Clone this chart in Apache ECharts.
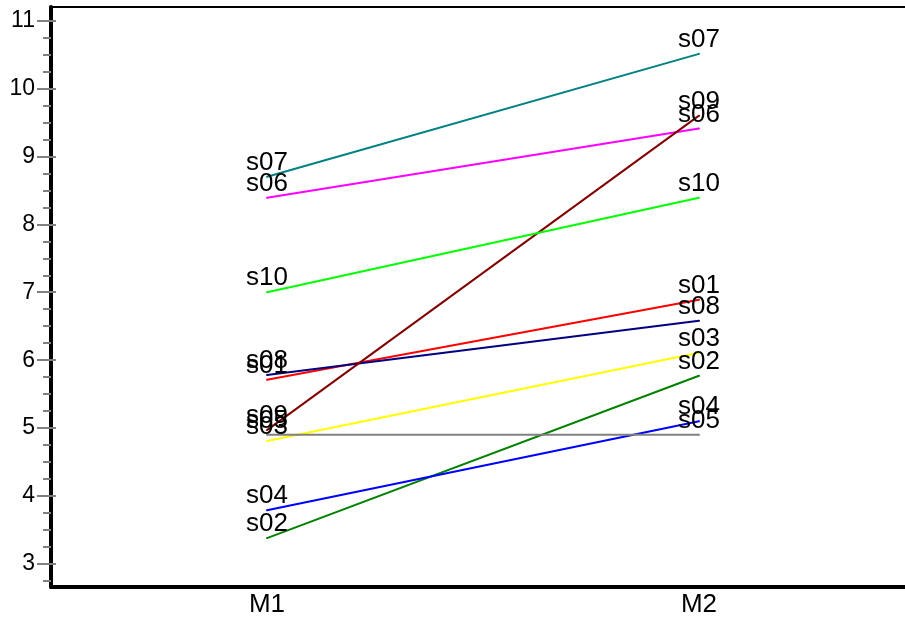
<!DOCTYPE html>
<html>
<head>
<meta charset="utf-8">
<script src="https://cdn.jsdelivr.net/npm/echarts@6/dist/echarts.min.js"></script>
<style>html,body{margin:0;padding:0;background:#fff;}#c{width:905px;height:618px;}</style>
</head>
<body>
<div id="c"></div>
<script>
const categories = ['M1', 'M2'];
const seriesNames = ['s01','s02','s03','s04','s05','s06','s07','s08','s09','s10'];
const s01 = [5.71, 6.89];
const s02 = [3.38, 5.77];
const s03 = [4.81, 6.11];
const s04 = [3.79, 5.10];
const s05 = [4.90, 4.90];
const s06 = [8.39, 9.41];
const s07 = [8.70, 10.51];
const s08 = [5.78, 6.58];
const s09 = [4.97, 9.60];
const s10 = [7.00, 8.39];
const majorTicks = [3, 4, 5, 6, 7, 8, 9, 10, 11];
const minorTicks = [2.75, 3.25, 3.5, 3.75, 4.25, 4.5, 4.75, 5.25, 5.5, 5.75, 6.25, 6.5, 6.75, 7.25, 7.5, 7.75, 8.25, 8.5, 8.75, 9.25, 9.5, 9.75, 10.25, 10.5, 10.75];
const colors = ['#ff0000','#008000','#ffff00','#0000ff','#808080','#ff00ff','#008080','#000080','#800000','#00ff00'];
const values = [s01,s02,s03,s04,s05,s06,s07,s08,s09,s10];

const YMIN = 2.66, YMAX = 11.2;
const chart = echarts.init(document.getElementById('c'));
const baseY = {type:'value', min:YMIN, max:YMAX, position:'left', splitLine:{show:false}};
chart.setOption({
  animation:false,
  grid:{left:51, width:864, top:7, bottom:31, outerBoundsMode:'none', containLabel:false},
  xAxis:[
    {type:'category', data:categories, boundaryGap:true,
     axisLine:{lineStyle:{color:'#000', width:4}}, axisTick:{show:false},
     axisLabel:{color:'#000', fontSize:26, fontFamily:'Liberation Sans', margin:5}},
    {type:'category', data:categories, position:'top',
     axisLine:{lineStyle:{color:'#000', width:2}}, axisTick:{show:false}, axisLabel:{show:false}}
  ],
  yAxis:[
    Object.assign({}, baseY, {
      axisLine:{show:true, lineStyle:{color:'#000', width:4}},
      axisTick:{show:true, customValues:majorTicks, length:14, lineStyle:{color:'#808080', width:2}},
      axisLabel:{show:true, customValues:majorTicks, color:'#000', fontSize:23, fontFamily:'Liberation Sans', margin:16}
    }),
    Object.assign({}, baseY, {
      axisLine:{show:false},
      axisTick:{show:true, inside:true, customValues:majorTicks, length:5, lineStyle:{color:'#808080', width:2}},
      axisLabel:{show:false}
    }),
    Object.assign({}, baseY, {
      axisLine:{show:false},
      axisTick:{show:true, customValues:minorTicks, length:8, lineStyle:{color:'#808080', width:2}},
      axisLabel:{show:false}
    })
  ],
  series: seriesNames.map((name, i) => ({
    name: name, type:'line', data: values[i], yAxisIndex:0, xAxisIndex:0,
    symbol:'circle', symbolSize:2, showSymbol:true, itemStyle:{color:colors[i]},
    lineStyle:{color:colors[i], width:2},
    label:{show:true, position:'top', distance:0, formatter:name, color:'#000', fontSize:26, fontFamily:'Liberation Sans'},
    labelLayout:{hideOverlap:false}
  }))
});
</script>
</body>
</html>
